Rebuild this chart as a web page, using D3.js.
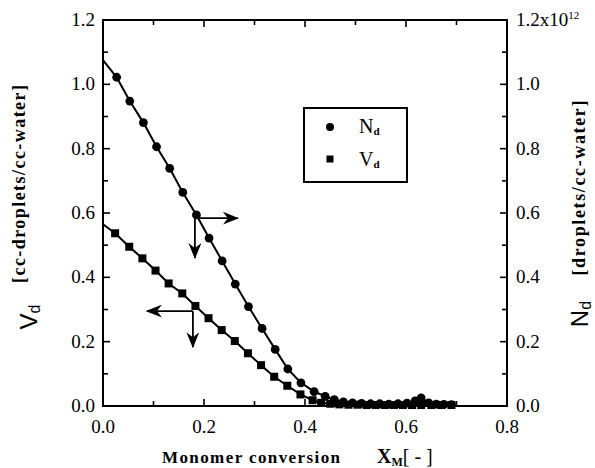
<!DOCTYPE html>
<html>
<head>
<meta charset="utf-8">
<script src="https://cdn.jsdelivr.net/npm/d3@7"></script>
<style>
  body { margin: 0; background: #fff; }
  text { font-family: "Liberation Serif", "Times New Roman", serif; fill: #000; }
  text.sans { font-family: "Liberation Sans", Arial, sans-serif; }
</style>
</head>
<body>
<div id="chart"></div>
<script>
// Data
// N_d (droplet number, right axis, x10^12)
const ndX = [0, 0.027, 0.053, 0.080, 0.106, 0.132, 0.158, 0.185, 0.210, 0.236, 0.262, 0.288, 0.315, 0.341, 0.366, 0.392, 0.418,
  0.440, 0.458, 0.476, 0.494, 0.512, 0.530, 0.548, 0.566, 0.584, 0.602, 0.618, 0.630, 0.645, 0.660, 0.675, 0.690];
const ndY = [1.075, 1.022, 0.948, 0.881, 0.806, 0.739, 0.664, 0.594, 0.522, 0.451, 0.379, 0.309, 0.241, 0.176, 0.115, 0.072, 0.045,
  0.030, 0.020, 0.013, 0.010, 0.008, 0.007, 0.007, 0.006, 0.007, 0.009, 0.016, 0.025, 0.010, 0.006, 0.005, 0.004];
// V_d (droplet volume, left axis)
const vdX = [0, 0.024, 0.052, 0.078, 0.104, 0.130, 0.157, 0.183, 0.209, 0.235, 0.261, 0.287, 0.313, 0.339, 0.365, 0.391, 0.415,
  0.432, 0.450, 0.468, 0.486, 0.504, 0.522, 0.540, 0.558, 0.576, 0.594, 0.612, 0.630, 0.650, 0.670, 0.690];
const vdY = [0.565, 0.537, 0.495, 0.459, 0.421, 0.381, 0.350, 0.311, 0.273, 0.236, 0.202, 0.164, 0.127, 0.091, 0.063, 0.036, 0.018,
  0.010, 0.007, 0.005, 0.004, 0.004, 0.003, 0.003, 0.003, 0.003, 0.003, 0.003, 0.003, 0.003, 0.003, 0.003];

const xTicks = [0, 0.2, 0.4, 0.6, 0.8];
const yTicks = [0, 0.2, 0.4, 0.6, 0.8, 1.0, 1.2];

// annotation arrows: [originX, originY, tipX, tipY]
const arrows = [
  [0.182, 0.584, 0.267, 0.584],
  [0.182, 0.584, 0.182, 0.460],
  [0.178, 0.295, 0.087, 0.295],
  [0.178, 0.295, 0.178, 0.183]
];

const width = 595, height = 468;
const margin = { left: 103, right: 88, top: 20, bottom: 62 };

const svg = d3.select("#chart").append("svg")
  .attr("width", width)
  .attr("height", height);

const x = d3.scaleLinear().domain([0, 0.8]).range([margin.left, width - margin.right]);
const y = d3.scaleLinear().domain([0, 1.2]).range([height - margin.bottom, margin.top]);

const x0 = x(0), x1 = x(0.8), y0 = y(0), y1 = y(1.2);

// ticks (inward) on all four sides
const minorX = d3.range(0, 0.81, 0.1);
const minorY = d3.range(0, 1.21, 0.1);
const tickG = svg.append("g").attr("stroke", "#000").attr("stroke-width", 1.6);
minorX.forEach((v, i) => {
  const len = i % 2 === 0 ? 7 : 5;
  tickG.append("line").attr("x1", x(v)).attr("x2", x(v)).attr("y1", y0).attr("y2", y0 - len);
  tickG.append("line").attr("x1", x(v)).attr("x2", x(v)).attr("y1", y1).attr("y2", y1 + len);
});
minorY.forEach((v, i) => {
  const len = i % 2 === 0 ? 7 : 5;
  tickG.append("line").attr("x1", x0).attr("x2", x0 + len).attr("y1", y(v)).attr("y2", y(v));
  tickG.append("line").attr("x1", x1).attr("x2", x1 - len).attr("y1", y(v)).attr("y2", y(v));
});

// frame
svg.append("rect")
  .attr("x", x0).attr("y", y1)
  .attr("width", x1 - x0).attr("height", y0 - y1)
  .attr("fill", "none").attr("stroke", "#000").attr("stroke-width", 2);

// tick labels
const fmt = d3.format(".1f");
svg.append("g").selectAll("text").data(xTicks).join("text")
  .attr("x", d => x(d)).attr("y", y0 + 27)
  .attr("text-anchor", "middle").attr("font-size", 19)
  .text(d => fmt(d));
svg.append("g").selectAll("text").data(yTicks).join("text")
  .attr("x", x0 - 8).attr("y", d => y(d) + 6)
  .attr("text-anchor", "end").attr("font-size", 19)
  .text(d => fmt(d));
const rt = svg.append("g").selectAll("text").data(yTicks).join("text")
  .attr("x", x1 + 9).attr("y", d => y(d) + 6)
  .attr("font-size", 19);
rt.each(function(d) {
  const t = d3.select(this);
  if (d === 1.2) {
    t.append("tspan").text("1.2x10");
    t.append("tspan").attr("font-size", 11).attr("dy", -7).text("12");
  } else {
    t.text(fmt(d));
  }
});

// lines
const line = d3.line().x(d => x(d[0])).y(d => y(d[1]));
const ndPts = ndX.map((v, i) => [v, ndY[i]]);
const vdPts = vdX.map((v, i) => [v, vdY[i]]);

svg.append("path").datum(ndPts).attr("d", line)
  .attr("fill", "none").attr("stroke", "#000").attr("stroke-width", 2);
svg.append("path").datum(vdPts).attr("d", line)
  .attr("fill", "none").attr("stroke", "#000").attr("stroke-width", 2);

// markers (the x = 0 starting values sit on the axis and carry no marker)
svg.append("g").selectAll("circle").data(ndPts.filter(d => d[0] > 0)).join("circle")
  .attr("cx", d => x(d[0])).attr("cy", d => y(d[1])).attr("r", 4.4)
  .attr("fill", "#000");
svg.append("g").selectAll("rect").data(vdPts.filter(d => d[0] > 0)).join("rect")
  .attr("x", d => x(d[0]) - 4).attr("y", d => y(d[1]) - 4)
  .attr("width", 8).attr("height", 8)
  .attr("fill", "#000");

// arrows
const defs = svg.append("defs");
defs.append("marker")
  .attr("id", "head").attr("viewBox", "0 0 16 13")
  .attr("refX", 15).attr("refY", 6.5)
  .attr("markerWidth", 16).attr("markerHeight", 13)
  .attr("markerUnits", "userSpaceOnUse")
  .attr("orient", "auto")
  .append("path").attr("d", "M0,0 L16,6.5 L0,13 L5,6.5 Z").attr("fill", "#000");

svg.append("g").selectAll("line").data(arrows).join("line")
  .attr("x1", d => x(d[0])).attr("y1", d => y(d[1]))
  .attr("x2", d => x(d[2])).attr("y2", d => y(d[3]))
  .attr("stroke", "#000").attr("stroke-width", 1.8)
  .attr("marker-end", "url(#head)");

// legend
const lg = svg.append("g");
lg.append("rect").attr("x", 304).attr("y", 108).attr("width", 103).attr("height", 74)
  .attr("fill", "#fff").attr("stroke", "#000").attr("stroke-width", 2);
lg.append("circle").attr("cx", 330).attr("cy", 127).attr("r", 4).attr("fill", "#000");
lg.append("rect").attr("x", 326.5).attr("y", 155.5).attr("width", 7).attr("height", 7).attr("fill", "#000");
const l1 = lg.append("text").attr("x", 359).attr("y", 133).attr("font-size", 20);
l1.append("tspan").text("N");
l1.append("tspan").attr("font-size", 11).attr("font-weight", "bold").attr("dy", 2).text("d");
const l2 = lg.append("text").attr("x", 359).attr("y", 166).attr("font-size", 20);
l2.append("tspan").text("V");
l2.append("tspan").attr("font-size", 11).attr("font-weight", "bold").attr("dy", 2).text("d");

// x title
svg.append("text").attr("x", 162).attr("y", 463)
  .attr("font-size", 17).attr("font-weight", "bold")
  .attr("textLength", 178).attr("lengthAdjust", "spacing")
  .text("Monomer conversion");
const xm = svg.append("text").attr("x", 377).attr("y", 463)
  .attr("font-size", 20).attr("font-weight", "bold");
xm.append("tspan").text("X");
xm.append("tspan").attr("font-size", 12).attr("dy", 3).text("M");
xm.append("tspan").attr("dy", -3).attr("font-size", 20).attr("font-weight", "normal").text("[ - ]");

// left y title
svg.append("text").attr("class", "sans")
  .attr("transform", "translate(37,317) rotate(-90)")
  .attr("text-anchor", "middle")
  .attr("font-size", 24)
  .html('V<tspan font-size="16" dy="3">d</tspan>');
svg.append("text")
  .attr("transform", "translate(25,184) rotate(-90)")
  .attr("text-anchor", "middle")
  .attr("font-size", 18).attr("font-weight", "bold")
  .attr("textLength", 198).attr("lengthAdjust", "spacing")
  .text("[cc-droplets/cc-water]");

// right y title
svg.append("text").attr("class", "sans")
  .attr("transform", "translate(588,314) rotate(-90)")
  .attr("text-anchor", "middle")
  .attr("font-size", 24)
  .html('N<tspan font-size="16" dy="3">d</tspan>');
svg.append("text")
  .attr("transform", "translate(585,188) rotate(-90)")
  .attr("text-anchor", "middle")
  .attr("font-size", 18).attr("font-weight", "bold")
  .attr("textLength", 175).attr("lengthAdjust", "spacing")
  .text("[droplets/cc-water]");
</script>
</body>
</html>
